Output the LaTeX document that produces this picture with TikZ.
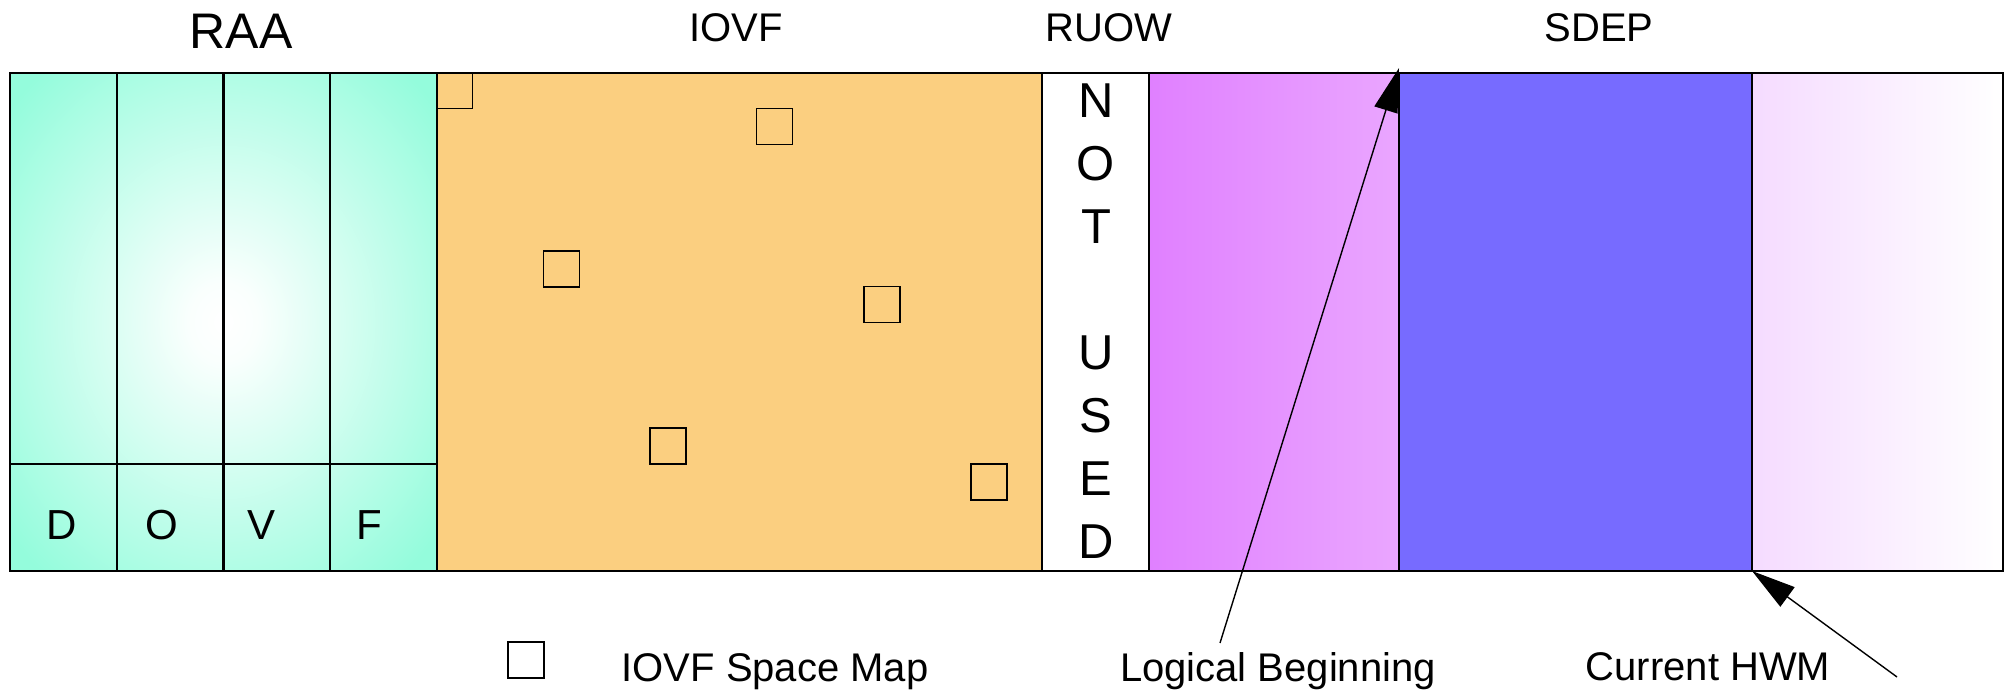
\documentclass[tikz,border=0pt]{standalone}
\usepackage{fontspec}
\setmainfont{Liberation Sans}
\usetikzlibrary{arrows.meta}
\definecolor{aquaC}{RGB}{148,252,220}
\definecolor{iovfC}{RGB}{251,207,128}
\definecolor{pinkL}{RGB}{224,128,255}
\definecolor{pinkR}{RGB}{234,166,255}
\definecolor{blueC}{RGB}{119,107,255}
\definecolor{lightL}{RGB}{245,219,255}
\pgfdeclareradialshading{raashade}{\pgfpoint{0bp}{0bp}}{color(0bp)=(white);color(4bp)=(white!95!aquaC);color(33bp)=(aquaC);color(50bp)=(aquaC)}
\tikzset{
  blk/.style={draw=black, line width=1.1pt, anchor=north west, inner sep=0pt, outer sep=0pt, minimum height=249pt, minimum width=#1},
  gridline/.style={draw=black, line width=1.1pt},
  smap/.style={draw=black, line width=0.9pt, inner sep=0pt, outer sep=0pt, minimum size=18pt},
  lbl/.style={font=\fontsize{20}{24}\selectfont, anchor=base, inner sep=0pt},
  bigl/.style={font=\fontsize{25}{30}\selectfont, anchor=base, inner sep=0pt},
  nul/.style={font=\fontsize{24.5}{29}\selectfont, anchor=base, inner sep=0pt},
  cell/.style={font=\fontsize{21}{25}\selectfont, anchor=base, inner sep=0pt},
  ptr/.style={line width=0.7pt, -{Triangle[length=22pt,width=12pt]}},
}
\begin{document}
\begin{tikzpicture}[x=0.5pt,y=-0.5pt]
\useasboundingbox (0,0) rectangle (2007,694);
% blocks
\node[blk=213.5pt, shade, shading=raashade] (raa) at (10,73) {};
\node[blk=302.5pt, fill=iovfC] (iovf) at (437,73) {};
\node[blk=53.5pt, fill=white] (nu) at (1042,73) {};
\node[blk=125pt, left color=pinkL, right color=pinkR] (lb) at (1149,73) {};
\node[blk=176.5pt, fill=blueC] (sdep) at (1399,73) {};
\node[blk=125.5pt, left color=lightL, right color=white] (free) at (1752,73) {};
% RAA grid
\draw[gridline] (116.75,73) -- (116.75,571);
\draw[gridline] (223.5,73) -- (223.5,571);
\draw[gridline] (330.25,73) -- (330.25,571);
\draw[gridline] (10,464) -- (437,464);
% space map squares
\node[smap] (s1) at (454.5,90.5) {};
\node[smap] (s2) at (774.5,126.5) {};
\node[smap] (s3) at (561.5,269) {};
\node[smap] (s4) at (882,304.5) {};
\node[smap] (s5) at (668,446) {};
\node[smap] (s6) at (989,482) {};
\node[smap] (leg) at (526,660) {};
% top labels
\node[bigl] (tRAA) at (241,49) {RAA};
\node[lbl] (tIOVF) at (736,42) {IOVF};
\node[lbl] (tRUOW) at (1109,42) {RUOW};
\node[lbl] (tSDEP) at (1599,42) {SDEP};
% RAA cells
\node[cell] (cD) at (62,539) {D};
\node[cell] (cO) at (162,539) {O};
\node[cell] (cV) at (262,539) {V};
\node[cell] (cF) at (369,539) {F};
% NOT USED
\node[nul] (n1) at (1096,118) {N};
\node[nul] (n2) at (1096,181) {O};
\node[nul] (n3) at (1096,244) {T};
\node[nul] (n4) at (1096,370) {U};
\node[nul] (n5) at (1096,433) {S};
\node[nul] (n6) at (1096,496) {E};
\node[nul] (n7) at (1096,559) {D};
% bottom labels
\node[lbl] (lmap) at (775,681) {IOVF Space Map};
\node[lbl] (llb) at (1278,681) {Logical Beginning};
\node[lbl] (lhwm) at (1708,680) {Current HWM};
% pointers
\coordinate (lbtail) at (1220,643);
\coordinate (lbtip) at (1399,68);
\coordinate (hwmtail) at (1897,677);
\draw[ptr] (lbtail) -- (lbtip);
\draw[ptr] (hwmtail) -- (free.south west);
\end{tikzpicture}
\end{document}
